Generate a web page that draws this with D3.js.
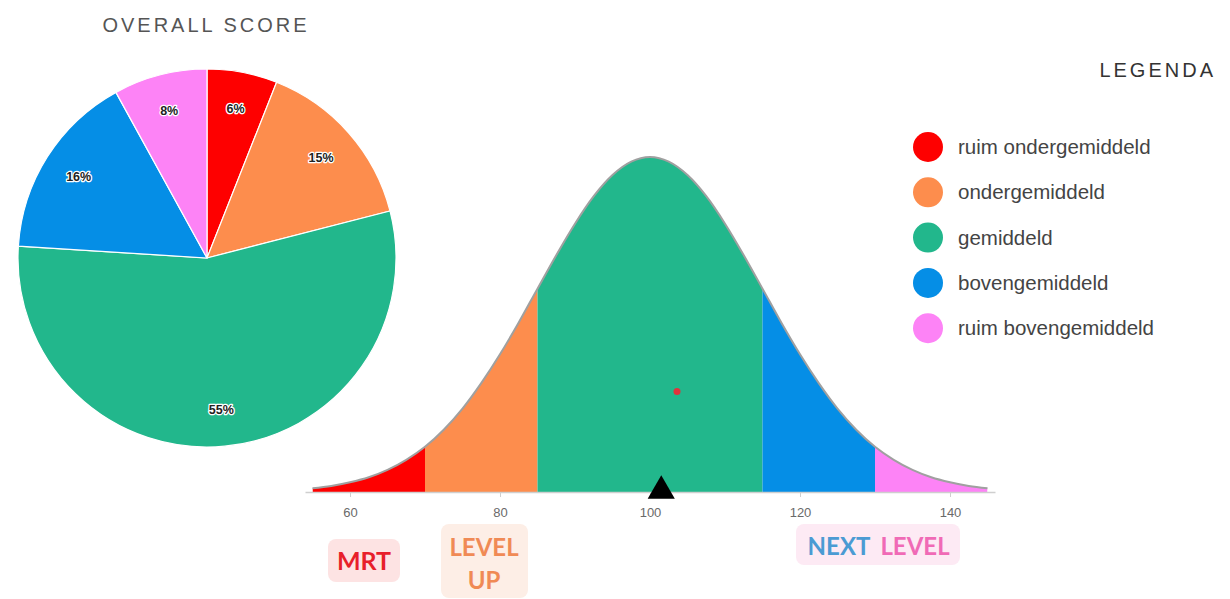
<!DOCTYPE html>
<html>
<head>
<meta charset="utf-8">
<script src="https://cdn.jsdelivr.net/npm/d3@7"></script>
<style>
  html, body { margin: 0; padding: 0; background: #fff; }
  svg { display: block; }
</style>
</head>
<body>
<svg id="chart" width="1230" height="599"></svg>
<script>
// ---------- DATA ----------
const categories = ["ruim ondergemiddeld", "ondergemiddeld", "gemiddeld", "bovengemiddeld", "ruim bovengemiddeld"];
const colors = ["#fe0000", "#fd8d4d", "#22b78c", "#058ee6", "#fd83f6"];
const pieValues = [6, 15, 55, 16, 8];
const pieLabels = ["6%", "15%", "55%", "16%", "8%"];

// bell-curve band limits (score)
const bandStarts = [55, 70, 85, 115, 130];
const bandEnds   = [70, 85, 115, 130, 145];

// curve: score and height (% of peak)
const curveX = [55, 57.5, 60, 62.5, 65, 67.5, 70, 72.5, 75, 77.5, 80, 82.5, 85, 87.5, 90, 92.5, 95, 97.5, 100,
                102.5, 105, 107.5, 110, 112.5, 115, 117.5, 120, 122.5, 125, 127.5, 130, 132.5, 135, 137.5, 140, 142.5, 145];
const curveY = [1.1, 1.8, 2.9, 4.4, 6.6, 9.6, 13.5, 18.6, 24.9, 32.5, 41.1, 50.6, 60.7, 70.7, 80.1, 88.3, 94.6, 98.6, 100,
                98.6, 94.6, 88.3, 80.1, 70.7, 60.7, 50.6, 41.1, 32.5, 24.9, 18.6, 13.5, 9.6, 6.6, 4.4, 2.9, 1.8, 1.1];

const tickValues = [60, 80, 100, 120, 140];
const markerScore = 101.5;
const dotScore = 103.6;
const dotHeight = 30;

const tagTexts = [["MRT"], ["LEVEL", "UP"]];
const nextLevelWords = ["NEXT", "LEVEL"];

// ---------- DRAW ----------
const svg = d3.select("#chart");
const FONT = "'Liberation Sans', Arial, sans-serif";

// Titles
svg.append("text").attr("x", 206).attr("y", 32).attr("text-anchor", "middle")
  .style("font-family", FONT).style("font-size", "20px").style("letter-spacing", "3px")
  .attr("fill", "#555").text("OVERALL SCORE");

svg.append("text").attr("x", 1216).attr("y", 77).attr("text-anchor", "end")
  .style("font-family", FONT).style("font-size", "20px").style("letter-spacing", "3px")
  .attr("fill", "#333").text("LEGENDA");

// Pie
const pieCx = 207, pieCy = 258, pieR = 189;
const pie = d3.pie().sort(null).value(d => d)(pieValues);
const arc = d3.arc().innerRadius(0).outerRadius(pieR);
const labelArc = d3.arc().innerRadius(152).outerRadius(152);
const pg = svg.append("g").attr("transform", `translate(${pieCx},${pieCy})`);
pg.selectAll("path.slice").data(pie).join("path").attr("class", "slice")
  .attr("d", arc).attr("fill", (d, i) => colors[i])
  .attr("stroke", "#fff").attr("stroke-width", 1.2);
pg.selectAll("text.lbl").data(pie).join("text").attr("class", "lbl")
  .attr("transform", d => `translate(${labelArc.centroid(d)})`)
  .attr("text-anchor", "middle").attr("dy", "0.35em")
  .style("font-family", FONT).style("font-size", "12.5px").style("font-weight", "bold")
  .attr("fill", "#222").attr("stroke", "#fff").attr("stroke-width", 2.5)
  .style("paint-order", "stroke").attr("stroke-linejoin", "round")
  .text((d, i) => pieLabels[i]);

// Legend
const lg = svg.append("g");
categories.forEach((c, i) => {
  const y = 147 + i * 45.3;
  lg.append("circle").attr("cx", 928).attr("cy", y).attr("r", 15).attr("fill", colors[i]);
  lg.append("text").attr("x", 958).attr("y", y).attr("dy", "0.35em")
    .style("font-family", FONT).style("font-size", "20.5px").attr("fill", "#444").text(c);
});

// Bell curve
const x = d3.scaleLinear().domain([55, 145]).range([312.5, 987.5]);
const y = d3.scaleLinear().domain([0, 100]).range([492, 157]);
const pts = curveX.map((v, i) => [v, curveY[i]]);

const area = d3.area().x(d => x(d[0])).y0(y(0)).y1(d => y(d[1])).curve(d3.curveMonotoneX);
const line = d3.line().x(d => x(d[0])).y(d => y(d[1])).curve(d3.curveMonotoneX);

svg.append("clipPath").attr("id", "bellClip").append("path").attr("d", area(pts));
const bg = svg.append("g").attr("clip-path", "url(#bellClip)");
bandStarts.forEach((s, i) => {
  bg.append("rect").attr("x", x(s)).attr("width", x(bandEnds[i]) - x(s))
    .attr("y", y(100) - 5).attr("height", y(0) - y(100) + 5).attr("fill", colors[i]);
});
svg.append("path").attr("d", line(pts)).attr("fill", "none")
  .attr("stroke", "#a0a0a0").attr("stroke-width", 2);

// Axis
const axisScale = x.copy().domain([54, 146]).range([x(54), x(146)]);
const ax = svg.append("g").attr("transform", `translate(0,${y(0)})`)
  .call(d3.axisBottom(axisScale).tickValues(tickValues).tickSize(5).tickSizeOuter(0).tickPadding(11));
ax.select(".domain").attr("stroke", "#cfcfcf").attr("stroke-width", 1.5);
ax.selectAll(".tick line").attr("stroke", "#cfcfcf");
ax.selectAll(".tick text").style("font-family", FONT).style("font-size", "13px").attr("fill", "#6a6a6a");

// marker triangle
svg.append("path")
  .attr("d", d3.symbol().type(d3.symbolTriangle).size(320))
  .attr("transform", `translate(${x(markerScore)},${y(0) - 1})`)
  .attr("fill", "#000");

// red dot
svg.append("circle").attr("cx", x(dotScore)).attr("cy", y(dotHeight)).attr("r", 3.5).attr("fill", "#e0333c");

// Tags
const TAGFONT = "Lato, 'Open Sans', sans-serif";
function tag(x0, y0, w, h, fill) {
  svg.append("rect").attr("x", x0).attr("y", y0).attr("width", w).attr("height", h)
    .attr("rx", 8).attr("fill", fill);
}
tag(328, 539, 72, 43, "#fde3e3");
svg.append("text").attr("x", 364).attr("y", 561).attr("dy", "0.35em").attr("text-anchor", "middle")
  .style("font-family", TAGFONT).style("font-size", "25px").style("font-weight", "bold")
  .attr("fill", "#e81f2b").text(tagTexts[0][0]);

tag(441, 524, 87, 74, "#fdeee6");
tagTexts[1].forEach((t, i) => {
  svg.append("text").attr("x", 484).attr("y", 548 + i * 33).attr("dy", "0.35em").attr("text-anchor", "middle")
    .style("font-family", TAGFONT).style("font-size", "24px").style("font-weight", "bold")
    .attr("fill", "#f08a55").text(t);
});

tag(796, 524, 164, 41, "#fdeaf4");
svg.append("text").attr("x", 839).attr("y", 547).attr("dy", "0.35em").attr("text-anchor", "middle")
  .style("font-family", TAGFONT).style("font-size", "24px").style("font-weight", "bold")
  .attr("fill", "#4b9bd3").text(nextLevelWords[0]);
svg.append("text").attr("x", 915).attr("y", 547).attr("dy", "0.35em").attr("text-anchor", "middle")
  .style("font-family", TAGFONT).style("font-size", "24px").style("font-weight", "bold")
  .attr("fill", "#f06ab6").text(nextLevelWords[1]);
</script>
</body>
</html>
